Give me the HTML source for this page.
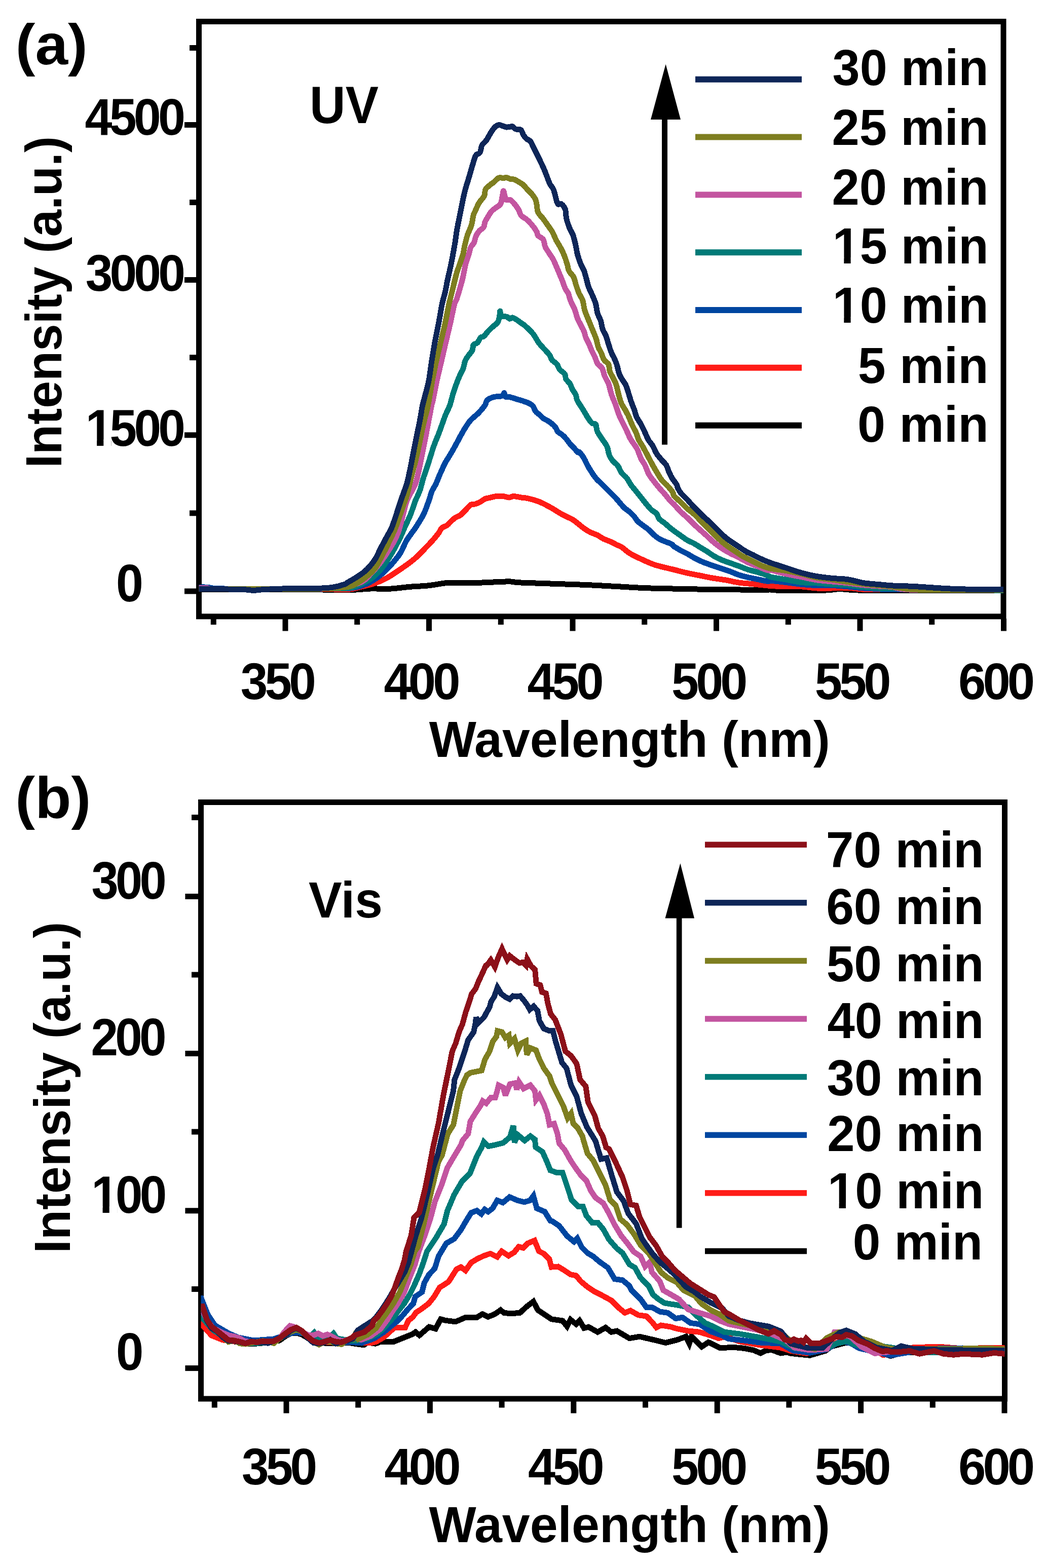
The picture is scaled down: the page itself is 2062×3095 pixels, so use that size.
<!DOCTYPE html><html><head><meta charset="utf-8"><style>html,body{margin:0;padding:0;background:#fff;}svg{display:block}</style></head><body>
<svg width="2062" height="3095" viewBox="0 0 2062 3095">
<rect width="2062" height="3095" fill="#fff"/>
<defs><clipPath id="ca"><rect x="392.5" y="48" width="1587.5" height="1163"/></clipPath><clipPath id="cb"><rect x="396.5" y="1589" width="1586" height="1166"/></clipPath></defs>
<g fill="none" stroke="#000" stroke-width="11">
<rect x="392.5" y="42.5" width="1587.5" height="1174.3"/>
<rect x="396.5" y="1583.5" width="1586" height="1177.5"/>
</g>
<g clip-path="url(#ca)" fill="none" shape-rendering="crispEdges" stroke-width="11" stroke-linejoin="round" stroke-linecap="butt">
<path stroke="#000000" d="M386.0 1163.2 C388.0 1163.2 375.7 1163.2 398.0 1163.2 C420.3 1163.2 486.3 1163.3 520.0 1163.4 C553.7 1163.5 578.3 1163.5 600.0 1163.6 C621.7 1163.7 635.0 1164.0 650.0 1164.2 C665.0 1164.4 676.5 1165.2 690.0 1164.8 C703.5 1164.4 717.8 1162.4 731.0 1162.0 C744.2 1161.6 756.5 1162.8 769.3 1162.2 C782.1 1161.6 794.9 1159.5 807.6 1158.4 C820.4 1157.3 833.7 1157.1 845.8 1155.8 C857.9 1154.5 870.4 1151.7 880.0 1150.7 C889.6 1149.8 891.9 1150.2 903.2 1150.1 C914.5 1150.0 931.1 1150.5 947.9 1150.1 C964.6 1149.7 990.0 1147.9 1003.7 1147.9 C1017.4 1147.9 1005.6 1149.0 1030.0 1150.1 C1054.4 1151.1 1118.8 1153.0 1150.0 1154.2 C1181.2 1155.5 1195.4 1156.5 1217.0 1157.6 C1238.6 1158.7 1251.2 1160.0 1279.5 1160.9 C1307.8 1161.8 1350.1 1162.6 1386.6 1163.2 C1423.0 1163.8 1476.0 1164.2 1498.2 1164.3 C1520.4 1164.4 1513.8 1163.9 1520.0 1164.0 C1526.2 1164.1 1517.5 1164.9 1535.3 1165.1 C1553.1 1165.3 1608.8 1165.3 1627.1 1165.1 C1645.4 1164.8 1639.9 1164.0 1645.0 1163.6 C1650.1 1163.1 1653.6 1162.4 1657.8 1162.4 C1662.0 1162.4 1663.6 1163.1 1670.0 1163.6 C1676.4 1164.0 1681.0 1164.8 1696.0 1165.1 C1711.0 1165.3 1712.7 1164.9 1760.0 1165.1 C1807.3 1165.2 1941.3 1165.8 1980.0 1166.0 C2018.7 1166.2 1990.0 1166.0 1992.0 1166.0"/>
<path stroke="#FF1C17" d="M386.0 1162.6 C388.0 1162.6 391.5 1162.6 398.0 1162.6 C404.5 1162.6 419.7 1162.8 425.0 1162.6 C430.3 1162.4 427.8 1161.4 430.0 1161.2 C432.2 1161.0 435.3 1161.4 438.0 1161.6 C440.7 1161.8 426.2 1162.4 446.0 1162.6 C465.8 1162.8 524.7 1162.6 557.0 1162.6 C589.3 1162.6 618.4 1162.3 640.0 1162.5 C661.6 1162.7 674.4 1164.2 686.4 1163.5 C698.4 1162.8 703.4 1160.3 711.9 1158.4 C720.4 1156.5 729.1 1154.8 737.4 1152.0 C745.7 1149.2 754.2 1145.6 761.6 1141.8 C769.0 1138.0 775.2 1133.5 782.0 1129.0 C788.8 1124.5 796.0 1119.7 802.4 1115.0 C808.8 1110.3 814.1 1106.5 820.3 1101.0 C826.5 1095.5 834.0 1087.4 839.4 1081.8 C844.8 1076.2 848.4 1072.5 852.8 1067.6 C857.1 1062.7 862.3 1056.5 865.5 1052.2 C868.7 1047.9 869.1 1044.5 871.9 1042.0 C874.7 1039.5 878.9 1039.2 882.1 1036.9 C885.3 1034.6 888.2 1030.5 891.0 1028.0 C893.8 1025.5 895.7 1023.5 898.7 1021.6 C901.7 1019.7 905.5 1019.0 908.9 1016.5 C912.3 1014.0 915.7 1009.7 919.1 1006.3 C922.5 1002.9 926.1 998.0 929.3 996.1 C932.5 994.2 935.2 995.6 938.2 994.8 C941.2 993.9 943.9 992.7 947.1 991.0 C950.3 989.3 953.9 986.1 957.3 984.6 C960.7 983.1 963.8 983.0 967.6 982.1 C971.4 981.2 976.0 979.9 980.3 979.5 C984.5 979.1 989.1 979.1 993.1 979.5 C997.1 979.9 1001.1 982.1 1004.5 982.1 C1007.9 982.1 1009.5 979.5 1013.5 979.5 C1017.5 979.5 1024.4 981.5 1028.8 982.1 C1033.2 982.8 1034.2 982.0 1040.0 983.4 C1045.8 984.8 1055.9 987.2 1063.5 990.2 C1071.1 993.2 1078.4 997.2 1085.8 1001.3 C1093.2 1005.4 1100.7 1010.6 1108.1 1014.7 C1115.5 1018.8 1125.1 1022.8 1130.4 1025.9 C1135.7 1029.0 1136.3 1030.2 1140.0 1033.1 C1143.7 1036.0 1148.5 1040.3 1152.8 1043.3 C1157.0 1046.3 1161.2 1048.8 1165.5 1050.9 C1169.8 1053.0 1174.0 1053.9 1178.3 1056.0 C1182.5 1058.1 1186.8 1061.6 1191.0 1063.7 C1195.2 1065.8 1199.5 1066.9 1203.8 1068.8 C1208.0 1070.7 1212.7 1073.3 1216.5 1075.2 C1220.3 1077.1 1222.2 1077.0 1226.7 1080.0 C1231.2 1083.0 1237.2 1088.9 1243.8 1092.9 C1250.3 1096.9 1257.9 1100.3 1266.1 1104.0 C1274.3 1107.7 1282.2 1111.8 1292.9 1115.2 C1303.6 1118.6 1319.6 1121.9 1330.0 1124.5 C1340.4 1127.1 1347.0 1129.0 1355.5 1130.9 C1364.0 1132.8 1372.5 1134.3 1381.0 1136.0 C1389.5 1137.7 1398.0 1139.6 1406.5 1141.1 C1415.0 1142.6 1423.5 1143.5 1432.0 1145.0 C1440.5 1146.5 1449.1 1148.7 1457.6 1150.0 C1466.1 1151.3 1474.6 1151.7 1483.1 1152.6 C1491.6 1153.5 1502.4 1154.6 1508.6 1155.2 C1514.8 1155.8 1513.0 1156.0 1520.0 1156.4 C1527.0 1156.9 1540.4 1157.7 1550.6 1157.9 C1560.8 1158.2 1571.0 1157.4 1581.2 1157.9 C1591.4 1158.4 1601.6 1160.5 1611.8 1161.0 C1622.0 1161.5 1632.3 1161.1 1642.5 1161.0 C1652.7 1160.9 1662.9 1159.8 1673.1 1160.2 C1683.3 1160.6 1693.5 1162.8 1703.7 1163.3 C1713.9 1163.8 1688.2 1163.0 1734.3 1163.3 C1780.3 1163.6 1937.0 1164.7 1980.0 1165.0 C2023.0 1165.3 1990.0 1165.0 1992.0 1165.0"/>
<path stroke="#0046A0" d="M386.0 1159.0 C388.0 1159.0 394.0 1159.0 398.0 1159.0 C402.0 1159.0 406.3 1158.9 410.0 1159.2 C413.7 1159.5 415.0 1160.6 420.0 1161.0 C425.0 1161.4 435.5 1161.2 440.0 1161.5 C444.5 1161.8 427.5 1162.4 447.0 1162.6 C466.5 1162.8 524.8 1162.5 557.0 1162.4 C589.2 1162.3 617.4 1162.0 640.0 1161.8 C662.6 1161.5 678.7 1162.5 692.8 1160.9 C706.9 1159.3 715.2 1156.0 724.6 1152.0 C734.0 1148.0 741.5 1142.4 748.9 1136.7 C756.3 1131.0 762.5 1125.0 769.3 1117.6 C776.1 1110.1 784.2 1100.5 789.7 1092.0 C795.2 1083.5 797.3 1075.0 802.4 1066.5 C807.5 1058.0 814.8 1049.5 820.3 1041.0 C825.8 1032.5 831.2 1024.4 835.6 1015.5 C840.0 1006.6 843.7 995.1 846.5 987.5 C849.3 979.9 850.0 974.9 852.3 969.6 C854.5 964.3 857.7 960.5 860.0 955.6 C862.3 950.7 864.4 944.8 866.3 940.3 C868.2 935.8 869.5 933.0 871.4 928.8 C873.3 924.5 875.4 919.3 877.8 914.8 C880.1 910.3 883.0 906.2 885.5 902.0 C888.0 897.8 890.6 893.8 893.1 889.3 C895.6 884.8 898.0 880.4 900.8 875.3 C903.6 870.2 906.7 864.0 909.7 858.7 C912.7 853.4 915.4 848.3 918.6 843.4 C921.8 838.5 924.5 834.0 928.8 829.3 C933.0 824.6 939.4 820.2 944.1 815.3 C948.8 810.4 954.0 804.2 956.9 800.0 C959.8 795.8 958.4 792.7 961.2 790.0 C964.0 787.3 969.6 785.0 973.9 783.7 C978.1 782.4 983.5 783.0 986.7 782.4 C989.9 781.8 991.6 781.1 993.0 780.0 C994.4 778.9 994.2 775.0 995.0 775.5 C995.8 776.0 995.7 781.6 997.5 783.0 C999.3 784.4 1002.2 782.9 1005.8 783.7 C1009.4 784.5 1014.8 786.4 1019.3 787.8 C1023.8 789.1 1028.4 790.3 1032.8 791.8 C1037.2 793.3 1042.3 795.2 1045.5 796.9 C1048.7 798.6 1050.0 799.5 1051.9 802.0 C1053.8 804.5 1054.9 809.4 1057.0 812.2 C1059.1 815.0 1062.3 816.5 1064.6 818.6 C1066.9 820.7 1068.5 823.1 1071.0 825.0 C1073.5 826.9 1077.1 828.4 1079.9 830.1 C1082.7 831.8 1084.8 832.9 1087.6 835.2 C1090.4 837.5 1094.4 841.3 1096.5 844.1 C1098.6 846.9 1098.3 849.4 1100.4 851.8 C1102.5 854.1 1106.5 855.9 1109.3 858.2 C1112.0 860.5 1114.4 862.8 1116.9 865.8 C1119.5 868.8 1122.0 873.0 1124.6 876.0 C1127.1 879.0 1129.7 880.9 1132.2 883.7 C1134.8 886.5 1138.0 891.1 1139.9 892.6 C1141.8 894.1 1141.7 890.6 1143.8 892.8 C1145.9 894.9 1150.2 901.2 1152.8 905.5 C1155.3 909.8 1156.8 914.0 1159.1 918.3 C1161.4 922.5 1164.0 926.8 1166.8 931.0 C1169.6 935.2 1172.7 940.2 1175.7 943.8 C1178.7 947.4 1181.6 949.7 1184.6 952.7 C1187.6 955.7 1190.4 958.4 1193.6 961.6 C1196.8 964.8 1200.4 968.4 1203.8 971.8 C1207.2 975.2 1210.8 978.6 1214.0 982.0 C1217.2 985.4 1219.9 988.8 1222.9 992.2 C1225.9 995.6 1228.6 999.4 1231.8 1002.4 C1235.0 1005.4 1238.8 1007.3 1242.0 1010.1 C1245.2 1012.9 1248.2 1015.8 1251.0 1019.0 C1253.8 1022.2 1255.4 1026.0 1258.6 1029.2 C1261.8 1032.4 1266.5 1035.4 1270.1 1038.2 C1273.7 1041.0 1276.9 1042.8 1280.3 1045.8 C1283.7 1048.8 1287.1 1053.0 1290.5 1056.0 C1293.9 1059.0 1297.1 1061.6 1300.7 1063.7 C1304.3 1065.8 1308.2 1067.1 1312.2 1068.8 C1316.2 1070.5 1322.0 1072.3 1325.0 1073.9 C1328.0 1075.5 1327.0 1076.5 1330.0 1078.6 C1333.0 1080.7 1338.5 1083.9 1342.8 1086.3 C1347.0 1088.7 1351.2 1090.4 1355.5 1092.7 C1359.8 1095.0 1363.6 1097.8 1368.3 1100.3 C1373.0 1102.8 1378.3 1105.7 1383.6 1108.0 C1388.9 1110.3 1394.2 1112.2 1400.2 1114.3 C1406.2 1116.4 1412.9 1118.6 1419.3 1120.7 C1425.7 1122.8 1432.0 1124.8 1438.4 1127.1 C1444.8 1129.4 1451.2 1132.6 1457.6 1134.7 C1464.0 1136.8 1470.3 1138.3 1476.7 1139.8 C1483.1 1141.3 1489.4 1142.4 1495.8 1143.7 C1502.2 1145.0 1511.0 1147.0 1515.0 1147.5 C1519.0 1148.0 1514.1 1146.1 1520.0 1146.4 C1525.9 1146.7 1540.4 1148.3 1550.6 1149.5 C1560.8 1150.7 1571.0 1152.3 1581.2 1153.3 C1591.4 1154.3 1601.6 1155.2 1611.8 1155.6 C1622.0 1156.0 1632.3 1155.2 1642.5 1155.6 C1652.7 1156.0 1662.9 1157.0 1673.1 1157.9 C1683.3 1158.8 1693.5 1160.2 1703.7 1161.0 C1713.9 1161.8 1724.9 1162.1 1734.3 1162.5 C1743.7 1162.9 1719.0 1162.9 1760.0 1163.3 C1801.0 1163.7 1941.3 1164.7 1980.0 1165.0 C2018.7 1165.3 1990.0 1165.0 1992.0 1165.0"/>
<path stroke="#007A77" d="M386.0 1162.6 C388.0 1162.6 369.5 1162.6 398.0 1162.6 C426.5 1162.6 516.7 1162.5 557.0 1162.4 C597.3 1162.3 618.4 1162.0 640.0 1161.8 C661.6 1161.5 675.5 1161.9 686.4 1160.9 C697.3 1159.9 698.1 1158.8 705.5 1155.8 C712.9 1152.8 723.4 1148.4 731.0 1143.1 C738.6 1137.8 745.0 1131.4 751.4 1123.9 C757.8 1116.5 763.3 1108.0 769.3 1098.4 C775.2 1088.8 782.2 1076.1 787.1 1066.5 C792.0 1056.9 794.8 1049.5 798.6 1041.0 C802.4 1032.5 806.7 1024.0 810.1 1015.5 C813.5 1007.0 816.9 995.7 819.0 990.0 C821.1 984.3 821.3 985.1 823.0 981.1 C824.7 977.1 827.4 971.5 829.3 965.8 C831.2 960.1 832.5 953.1 834.4 946.7 C836.3 940.3 838.9 933.4 840.8 927.6 C842.7 921.9 844.2 917.5 845.9 912.2 C847.6 906.9 849.1 901.7 851.0 895.7 C852.9 889.8 855.0 882.9 857.4 876.5 C859.8 870.1 862.6 863.8 865.1 857.4 C867.6 851.0 869.8 844.7 872.1 838.3 C874.4 831.9 876.5 825.5 879.1 819.1 C881.7 812.7 885.2 806.8 887.6 800.0 C890.0 793.2 891.5 785.4 893.6 778.6 C895.7 771.8 897.7 765.8 900.0 759.4 C902.3 753.0 905.3 745.6 907.6 740.3 C909.9 735.0 912.3 732.3 914.0 727.6 C915.7 722.9 916.1 716.5 917.8 712.2 C919.5 707.9 921.9 705.4 924.2 702.0 C926.5 698.6 930.1 695.4 931.8 691.8 C933.5 688.2 932.7 682.9 934.4 680.4 C936.1 677.9 939.7 678.9 942.0 676.5 C944.3 674.1 946.3 668.4 948.4 666.3 C950.5 664.2 952.5 665.7 954.8 663.8 C957.1 661.9 959.4 658.0 962.4 654.8 C965.4 651.6 969.5 647.6 972.7 644.6 C975.9 641.6 979.5 640.1 981.6 637.0 C983.7 633.9 984.7 629.8 985.5 626.0 C986.3 622.2 986.1 614.3 986.6 614.0 C987.1 613.7 987.4 622.3 988.5 624.0 C989.6 625.7 991.1 624.0 993.1 624.2 C995.1 624.5 998.6 624.6 1000.7 625.5 C1002.8 626.4 1004.1 629.1 1005.8 629.3 C1007.5 629.5 1008.8 626.6 1010.9 626.8 C1013.0 627.0 1015.8 628.9 1018.6 630.6 C1021.4 632.3 1024.5 634.9 1027.5 637.0 C1030.5 639.1 1032.3 639.7 1036.4 643.4 C1040.5 647.1 1047.8 653.8 1052.3 659.4 C1056.8 665.0 1058.2 670.4 1063.5 677.2 C1068.8 684.0 1079.6 694.5 1083.8 700.0 C1088.0 705.5 1086.4 707.0 1088.9 710.2 C1091.5 713.4 1096.5 715.9 1099.1 719.1 C1101.6 722.3 1101.7 726.1 1104.2 729.3 C1106.8 732.5 1112.3 735.1 1114.4 738.3 C1116.5 741.5 1115.2 745.3 1116.9 748.5 C1118.6 751.7 1122.5 754.0 1124.6 757.4 C1126.7 760.8 1127.8 765.3 1129.7 768.9 C1131.6 772.5 1134.6 775.7 1136.1 779.1 C1137.6 782.5 1136.9 785.5 1138.6 789.3 C1140.3 793.1 1143.9 798.2 1146.3 802.0 C1148.7 805.8 1150.4 808.4 1152.7 812.2 C1155.0 816.0 1157.8 821.2 1160.3 825.0 C1162.8 828.8 1165.5 833.1 1168.0 835.2 C1170.5 837.3 1173.9 835.2 1175.6 837.8 C1177.3 840.3 1176.5 846.2 1178.2 850.5 C1179.9 854.8 1183.0 859.0 1185.8 863.3 C1188.5 867.5 1192.5 872.6 1194.7 876.0 C1196.9 879.4 1197.4 879.9 1198.7 883.8 C1200.0 887.6 1200.8 894.9 1202.5 899.1 C1204.2 903.4 1206.1 905.9 1208.9 909.3 C1211.7 912.7 1216.1 915.5 1219.1 919.5 C1222.1 923.5 1223.7 929.6 1226.7 933.6 C1229.7 937.6 1233.9 940.0 1236.9 943.8 C1239.9 947.6 1241.6 952.2 1244.6 956.5 C1247.6 960.8 1251.4 965.0 1254.8 969.3 C1258.2 973.5 1261.6 977.8 1265.0 982.0 C1268.4 986.2 1271.8 990.8 1275.2 994.8 C1278.6 998.8 1282.0 1003.1 1285.4 1006.3 C1288.8 1009.5 1293.0 1010.9 1295.6 1013.9 C1298.1 1016.9 1297.9 1020.9 1300.7 1024.1 C1303.5 1027.3 1308.6 1030.1 1312.2 1033.1 C1315.8 1036.1 1319.4 1039.5 1322.4 1042.0 C1325.4 1044.5 1326.6 1045.5 1330.0 1048.0 C1333.4 1050.5 1338.5 1053.9 1342.8 1056.9 C1347.0 1059.9 1351.2 1063.4 1355.5 1065.9 C1359.8 1068.5 1364.0 1069.9 1368.3 1072.2 C1372.5 1074.5 1376.8 1077.3 1381.0 1079.9 C1385.2 1082.5 1389.1 1084.6 1393.8 1087.6 C1398.5 1090.6 1404.0 1094.8 1409.1 1097.8 C1414.2 1100.8 1418.9 1103.1 1424.4 1105.4 C1429.9 1107.7 1436.2 1109.7 1442.2 1111.8 C1448.2 1113.9 1454.3 1116.1 1460.1 1118.2 C1465.8 1120.3 1470.8 1122.6 1476.7 1124.5 C1482.7 1126.4 1489.4 1127.7 1495.8 1129.6 C1502.2 1131.5 1511.0 1134.5 1515.0 1136.0 C1519.0 1137.5 1514.1 1137.5 1520.0 1138.8 C1525.9 1140.1 1540.4 1142.3 1550.6 1144.1 C1560.8 1145.9 1571.0 1148.3 1581.2 1149.5 C1591.4 1150.7 1601.6 1150.4 1611.8 1151.0 C1622.0 1151.6 1632.3 1152.6 1642.5 1153.3 C1652.7 1154.0 1662.9 1154.0 1673.1 1154.9 C1683.3 1155.8 1693.5 1157.7 1703.7 1158.7 C1713.9 1159.7 1724.9 1160.5 1734.3 1161.0 C1743.7 1161.5 1719.0 1161.0 1760.0 1161.7 C1801.0 1162.4 1941.3 1164.7 1980.0 1165.3 C2018.7 1165.9 1990.0 1165.3 1992.0 1165.3"/>
<path stroke="#C355A0" d="M386.0 1160.5 C388.0 1160.5 394.0 1160.5 398.0 1160.5 C402.0 1160.5 405.5 1160.5 410.0 1160.8 C414.5 1161.1 400.5 1162.3 425.0 1162.6 C449.5 1162.9 521.2 1162.5 557.0 1162.4 C592.8 1162.3 615.2 1163.5 640.0 1161.8 C664.8 1160.1 689.9 1157.2 705.5 1152.0 C721.1 1146.8 724.7 1139.2 733.6 1130.3 C742.5 1121.4 750.5 1111.2 759.0 1098.4 C767.5 1085.7 777.4 1071.9 784.6 1053.8 C791.8 1035.7 796.4 1006.8 802.4 990.0 C808.4 973.2 815.5 967.7 820.4 953.0 C825.3 938.3 828.3 919.0 831.9 902.0 C835.5 885.0 838.7 868.0 842.0 851.0 C845.3 834.0 849.7 810.0 851.7 800.0 C853.7 790.0 852.3 799.1 854.0 791.3 C855.7 783.5 858.9 765.9 861.7 753.1 C864.5 740.4 867.6 727.6 870.6 714.8 C873.6 702.0 876.5 689.2 879.5 676.5 C882.5 663.8 885.6 651.0 888.5 638.3 C891.4 625.5 894.8 607.8 896.8 600.0 C898.8 592.2 898.8 597.0 900.8 591.3 C902.8 585.6 906.4 573.2 908.5 565.8 C910.6 558.4 911.9 554.1 913.6 546.7 C915.3 539.3 916.8 528.7 918.7 521.2 C920.6 513.8 923.4 507.5 925.1 502.0 C926.8 496.5 927.2 491.8 928.9 488.0 C930.6 484.2 933.6 482.7 935.3 479.1 C937.0 475.5 937.4 470.1 939.1 466.3 C940.8 462.5 943.0 459.1 945.5 456.1 C948.0 453.1 952.5 451.5 954.4 448.5 C956.3 445.5 955.6 441.5 956.9 438.3 C958.2 435.1 959.9 432.8 962.0 429.3 C964.1 425.9 966.8 420.7 969.4 417.6 C972.0 414.5 974.3 413.2 977.4 410.7 C980.5 408.2 985.4 406.8 987.7 402.7 C990.1 398.6 990.5 390.3 991.5 386.0 C992.5 381.7 992.8 376.8 993.5 377.0 C994.2 377.2 995.0 384.1 996.0 387.0 C997.0 389.9 997.3 393.3 999.2 394.6 C1001.1 395.9 1004.5 393.2 1007.2 394.6 C1009.9 396.0 1012.6 399.4 1015.3 402.7 C1018.0 405.9 1021.1 410.3 1023.3 414.1 C1025.5 417.9 1025.7 422.3 1028.4 425.5 C1031.1 428.7 1035.7 430.0 1039.3 433.1 C1042.9 436.3 1046.9 440.6 1050.2 444.6 C1053.5 448.6 1057.2 454.0 1059.1 457.4 C1061.0 460.8 1059.6 462.6 1061.7 465.1 C1063.8 467.7 1069.6 469.1 1071.9 472.7 C1074.2 476.3 1073.8 482.2 1075.7 486.7 C1077.6 491.2 1080.9 495.4 1083.4 499.5 C1086.0 503.6 1088.7 506.8 1091.0 511.0 C1093.3 515.2 1095.3 520.1 1097.4 525.0 C1099.5 529.9 1101.7 535.2 1103.8 540.3 C1105.9 545.4 1108.3 550.7 1110.2 555.6 C1112.1 560.5 1113.4 565.5 1115.3 569.6 C1117.2 573.7 1120.0 576.1 1121.7 580.0 C1123.4 583.9 1123.4 587.5 1125.5 592.8 C1127.6 598.1 1132.1 605.9 1134.4 611.9 C1136.7 617.9 1137.6 623.6 1139.5 628.5 C1141.4 633.4 1143.8 637.0 1145.9 641.2 C1148.0 645.5 1150.6 649.8 1152.3 654.0 C1154.0 658.2 1154.4 662.5 1156.1 666.7 C1157.8 671.0 1160.6 675.2 1162.5 679.5 C1164.4 683.8 1165.7 688.0 1167.6 692.2 C1169.5 696.5 1172.1 700.7 1174.0 705.0 C1175.9 709.3 1176.8 714.2 1179.1 717.8 C1181.4 721.4 1185.7 722.7 1188.0 726.7 C1190.3 730.7 1191.2 737.3 1193.1 742.0 C1195.0 746.7 1198.1 751.7 1199.5 754.7 C1200.9 757.7 1200.5 755.9 1201.7 760.0 C1202.9 764.1 1204.7 772.7 1206.8 779.1 C1208.9 785.5 1212.1 791.9 1214.4 798.3 C1216.7 804.7 1218.5 811.4 1220.8 817.4 C1223.1 823.4 1226.0 828.7 1228.5 834.0 C1231.0 839.3 1233.5 844.0 1236.1 849.3 C1238.6 854.6 1241.2 861.2 1243.8 865.9 C1246.3 870.6 1249.2 873.9 1251.4 877.3 C1253.7 880.7 1255.0 881.7 1257.3 886.4 C1259.6 891.1 1262.4 900.2 1265.0 905.5 C1267.6 910.8 1270.2 913.2 1272.7 918.3 C1275.2 923.4 1277.3 930.8 1280.3 936.1 C1283.3 941.4 1287.1 945.7 1290.5 950.2 C1293.9 954.7 1297.1 958.6 1300.7 962.9 C1304.3 967.1 1308.6 971.5 1312.2 975.7 C1315.8 980.0 1319.4 985.1 1322.4 988.4 C1325.4 991.7 1326.6 992.2 1330.0 995.7 C1333.4 999.2 1338.5 1005.5 1342.8 1009.7 C1347.0 1014.0 1351.2 1017.2 1355.5 1021.2 C1359.8 1025.2 1364.0 1030.0 1368.3 1034.0 C1372.5 1038.0 1376.8 1041.7 1381.0 1045.5 C1385.2 1049.3 1389.1 1052.7 1393.8 1056.9 C1398.5 1061.2 1404.0 1066.8 1409.1 1071.0 C1414.2 1075.2 1419.3 1079.0 1424.4 1082.4 C1429.5 1085.8 1434.2 1088.4 1439.7 1091.4 C1445.2 1094.4 1451.4 1097.1 1457.6 1100.3 C1463.8 1103.5 1470.3 1107.5 1476.7 1110.5 C1483.1 1113.5 1489.4 1115.7 1495.8 1118.2 C1502.2 1120.8 1511.0 1124.7 1515.0 1125.8 C1519.0 1126.9 1514.1 1123.8 1520.0 1125.0 C1525.9 1126.2 1540.4 1130.4 1550.6 1132.7 C1560.8 1135.0 1571.0 1136.8 1581.2 1138.8 C1591.4 1140.8 1601.6 1143.4 1611.8 1144.9 C1622.0 1146.4 1632.3 1147.0 1642.5 1148.0 C1652.7 1149.0 1662.9 1149.8 1673.1 1151.0 C1683.3 1152.2 1693.5 1153.9 1703.7 1154.9 C1713.9 1155.9 1724.9 1156.5 1734.3 1157.1 C1743.7 1157.7 1748.2 1157.5 1760.0 1158.7 C1771.8 1159.9 1768.3 1163.5 1805.0 1164.5 C1841.7 1165.5 1948.8 1164.6 1980.0 1164.6 C2011.2 1164.6 1990.0 1164.6 1992.0 1164.6"/>
<path stroke="#7E7E20" d="M386.0 1162.6 C388.0 1162.6 369.5 1162.6 398.0 1162.6 C426.5 1162.6 516.7 1162.5 557.0 1162.4 C597.3 1162.3 618.4 1162.5 640.0 1161.8 C661.6 1161.1 675.5 1160.2 686.4 1158.4 C697.3 1156.6 699.1 1154.3 705.5 1150.7 C711.9 1147.1 718.9 1141.6 724.6 1136.7 C730.4 1131.8 734.7 1128.9 740.0 1121.4 C745.3 1114.0 751.6 1101.2 756.5 1092.0 C761.4 1082.8 765.2 1075.0 769.3 1066.5 C773.3 1058.0 777.4 1049.5 780.8 1041.0 C784.2 1032.5 786.7 1024.0 789.7 1015.5 C792.7 1007.0 796.5 996.1 798.6 990.0 C800.8 983.9 800.9 984.8 802.6 978.6 C804.3 972.5 806.8 961.6 808.9 953.1 C811.0 944.6 813.2 936.1 815.3 927.6 C817.4 919.1 819.7 910.5 821.7 902.0 C823.7 893.5 825.6 885.0 827.4 876.5 C829.2 868.0 830.7 859.5 832.5 851.0 C834.3 842.5 836.3 834.0 838.3 825.5 C840.3 817.0 842.2 812.1 844.6 800.0 C847.0 787.9 850.2 767.3 852.8 753.1 C855.4 738.9 857.6 727.6 860.4 714.8 C863.1 702.0 866.3 689.2 869.3 676.5 C872.3 663.8 875.5 651.0 878.3 638.3 C881.1 625.5 884.3 607.8 885.9 600.0 C887.5 592.2 886.7 597.0 888.1 591.3 C889.5 585.6 892.3 574.3 894.4 565.8 C896.5 557.3 898.7 547.7 900.8 540.3 C902.9 532.9 905.1 527.6 907.2 521.2 C909.3 514.8 911.9 508.4 913.6 502.0 C915.3 495.6 915.9 489.3 917.4 482.9 C918.9 476.5 920.4 470.2 922.5 463.8 C924.6 457.4 928.3 451.0 930.2 444.6 C932.1 438.2 932.8 430.0 934.0 425.5 C935.2 421.0 935.3 421.8 937.2 417.6 C939.1 413.4 942.2 405.6 945.3 400.4 C948.4 395.2 953.5 391.0 955.6 386.6 C957.7 382.2 956.2 377.4 957.9 374.0 C959.6 370.6 963.0 368.4 965.9 365.9 C968.8 363.4 972.0 361.5 975.1 359.0 C978.2 356.5 981.2 352.2 984.3 351.0 C987.4 349.8 991.0 351.7 993.5 351.6 C996.0 351.5 996.9 350.1 999.2 350.4 C1001.5 350.7 1004.5 352.6 1007.2 353.3 C1009.9 354.0 1012.6 353.4 1015.3 354.4 C1018.0 355.3 1020.4 357.3 1023.3 359.0 C1026.2 360.7 1029.6 362.3 1032.5 364.8 C1035.4 367.3 1037.8 371.1 1040.5 374.0 C1043.2 376.9 1045.9 378.8 1048.6 382.0 C1051.3 385.2 1054.8 389.9 1056.6 393.5 C1058.3 397.1 1058.2 399.5 1059.1 403.8 C1059.9 408.1 1059.6 414.4 1061.7 419.1 C1063.8 423.8 1068.7 427.6 1071.9 431.9 C1075.1 436.1 1077.8 440.4 1080.8 444.6 C1083.8 448.9 1086.9 452.5 1089.7 457.4 C1092.5 462.3 1094.6 468.7 1097.4 474.0 C1100.2 479.3 1103.5 484.0 1106.3 489.3 C1109.1 494.6 1111.9 500.6 1114.0 505.9 C1116.1 511.2 1117.6 516.3 1119.1 521.2 C1120.6 526.1 1120.8 531.0 1122.9 535.2 C1125.0 539.5 1129.5 542.0 1131.8 546.7 C1134.1 551.4 1135.1 557.9 1136.9 563.3 C1138.7 568.7 1140.6 574.4 1142.7 579.3 C1144.8 584.2 1147.9 587.4 1149.7 592.8 C1151.5 598.2 1151.9 605.9 1153.6 611.9 C1155.3 617.9 1157.9 623.2 1160.0 628.5 C1162.1 633.8 1164.4 639.1 1166.3 643.8 C1168.2 648.5 1169.7 652.2 1171.4 656.5 C1173.1 660.8 1175.0 664.6 1176.5 669.3 C1178.0 674.0 1178.7 679.9 1180.4 684.6 C1182.1 689.3 1184.8 693.0 1186.7 697.3 C1188.6 701.5 1189.5 706.5 1191.8 710.1 C1194.1 713.7 1198.9 715.2 1200.8 719.0 C1202.7 722.8 1201.8 728.6 1203.3 733.1 C1204.8 737.6 1207.6 741.4 1209.7 745.8 C1211.8 750.2 1214.1 753.8 1215.9 759.3 C1217.8 764.8 1219.1 773.0 1220.8 779.1 C1222.5 785.2 1223.6 790.4 1225.9 795.7 C1228.2 801.0 1232.2 806.3 1234.8 811.0 C1237.3 815.7 1239.1 819.1 1241.2 823.8 C1243.3 828.5 1245.2 834.0 1247.6 839.1 C1249.9 844.2 1253.2 849.5 1255.3 854.4 C1257.4 859.3 1258.4 864.1 1260.4 868.4 C1262.5 872.7 1264.7 874.9 1267.6 880.0 C1270.5 885.1 1274.4 892.7 1277.8 899.1 C1281.2 905.5 1284.8 912.5 1288.0 918.3 C1291.2 924.0 1293.9 928.7 1296.9 933.6 C1299.9 938.5 1302.4 943.4 1305.8 947.6 C1309.2 951.9 1313.7 955.1 1317.3 959.1 C1320.9 963.1 1325.4 968.5 1327.5 971.8 C1329.6 975.1 1327.5 976.0 1330.0 979.1 C1332.5 982.2 1338.5 986.6 1342.8 990.6 C1347.0 994.6 1351.2 999.6 1355.5 1003.4 C1359.8 1007.2 1364.0 1009.8 1368.3 1013.6 C1372.5 1017.4 1376.8 1022.0 1381.0 1026.3 C1385.2 1030.5 1389.5 1034.8 1393.8 1039.1 C1398.0 1043.3 1402.2 1047.5 1406.5 1051.8 C1410.8 1056.0 1414.6 1060.3 1419.3 1064.6 C1424.0 1068.8 1429.5 1073.5 1434.6 1077.3 C1439.7 1081.1 1444.8 1084.2 1449.9 1087.6 C1455.0 1091.0 1459.7 1094.6 1465.2 1097.8 C1470.7 1101.0 1477.1 1103.7 1483.1 1106.7 C1489.0 1109.7 1494.9 1113.1 1500.9 1115.6 C1507.0 1118.1 1511.1 1120.1 1519.4 1122.0 C1527.7 1123.8 1540.3 1124.7 1550.6 1126.5 C1560.9 1128.3 1571.0 1130.4 1581.2 1132.7 C1591.4 1135.0 1601.6 1138.4 1611.8 1140.3 C1622.0 1142.2 1632.3 1142.7 1642.5 1144.1 C1652.7 1145.5 1662.9 1147.3 1673.1 1148.7 C1683.3 1150.1 1693.5 1151.4 1703.7 1152.6 C1713.9 1153.8 1724.9 1154.7 1734.3 1155.6 C1743.7 1156.5 1748.2 1156.5 1760.0 1157.9 C1771.8 1159.3 1782.0 1162.7 1805.3 1163.8 C1828.6 1164.9 1870.9 1164.2 1900.0 1164.3 C1929.1 1164.4 1964.7 1164.3 1980.0 1164.3 C1995.3 1164.3 1990.0 1164.3 1992.0 1164.3"/>
<path stroke="#0E2658" d="M386.0 1162.8 C388.0 1162.8 387.3 1162.8 398.0 1162.8 C408.7 1162.8 435.3 1162.8 450.0 1163.0 C464.7 1163.2 477.7 1163.6 486.0 1164.0 C494.3 1164.4 495.2 1165.5 500.0 1165.5 C504.8 1165.5 505.5 1164.6 515.0 1164.0 C524.5 1163.4 542.8 1162.4 557.0 1162.0 C571.2 1161.6 587.0 1161.7 600.0 1161.5 C613.0 1161.3 625.3 1161.4 635.0 1161.0 C644.7 1160.6 650.5 1160.3 658.0 1159.0 C665.5 1157.7 675.3 1154.9 680.0 1153.3 C684.7 1151.7 682.8 1151.5 686.4 1149.4 C690.0 1147.3 696.4 1143.9 701.7 1140.5 C707.0 1137.1 713.4 1133.0 718.3 1129.0 C723.2 1125.0 727.2 1120.8 731.0 1116.3 C734.8 1111.8 737.8 1108.0 741.2 1102.2 C744.6 1096.5 747.8 1088.8 751.4 1081.8 C755.0 1074.8 759.3 1067.0 762.9 1060.2 C766.5 1053.4 769.9 1048.5 773.1 1041.0 C776.3 1033.5 779.1 1024.0 782.0 1015.5 C784.9 1007.0 786.8 1000.4 790.3 990.0 C793.8 979.6 800.1 963.5 803.2 953.1 C806.3 942.7 807.1 936.1 808.9 927.6 C810.7 919.1 812.3 910.5 814.0 902.0 C815.7 893.5 817.4 885.0 819.1 876.5 C820.8 868.0 822.5 859.5 824.2 851.0 C825.9 842.5 827.7 834.0 829.3 825.5 C830.9 817.0 831.1 812.1 833.8 800.0 C836.5 787.9 842.8 767.3 845.7 753.1 C848.7 738.9 849.5 727.6 851.5 714.8 C853.5 702.0 855.6 689.2 857.9 676.5 C860.2 663.8 863.1 651.0 865.5 638.3 C867.9 625.5 870.3 610.0 872.3 600.0 C874.4 590.0 876.1 586.4 877.9 578.6 C879.7 570.8 881.2 561.6 883.0 553.1 C884.8 544.6 886.9 536.1 888.7 527.6 C890.5 519.1 892.2 510.5 893.8 502.0 C895.4 493.5 896.9 485.0 898.3 476.5 C899.7 468.0 900.6 459.5 902.1 451.0 C903.6 442.5 905.5 434.0 907.2 425.5 C908.9 417.0 910.5 408.4 912.3 400.0 C914.1 391.6 915.5 383.9 917.9 375.0 C920.2 366.1 924.1 354.6 926.4 346.7 C928.7 338.8 930.3 333.1 931.9 327.6 C933.5 322.2 934.7 317.6 936.0 314.0 C937.3 310.4 937.6 308.1 939.5 305.9 C941.4 303.7 945.3 304.0 947.2 300.8 C949.1 297.6 948.9 290.8 951.0 286.7 C953.1 282.6 957.0 280.8 960.0 276.5 C963.0 272.2 966.1 265.4 968.9 261.2 C971.6 256.9 974.0 253.4 976.5 251.0 C979.0 248.6 981.7 247.0 984.2 246.6 C986.8 246.2 989.2 247.8 991.8 248.5 C994.3 249.2 997.1 250.7 999.5 251.0 C1001.9 251.3 1004.0 250.6 1005.9 250.4 C1007.8 250.2 1009.1 249.0 1011.0 249.7 C1012.9 250.4 1014.5 253.7 1017.3 254.8 C1020.1 255.9 1025.0 254.2 1027.6 256.1 C1030.2 258.0 1030.8 263.3 1032.7 266.3 C1034.6 269.3 1036.7 271.9 1039.0 274.0 C1041.3 276.1 1044.4 276.1 1046.7 279.1 C1049.0 282.1 1051.0 287.6 1053.1 291.8 C1055.2 296.1 1057.3 300.4 1059.4 304.6 C1061.5 308.9 1063.5 312.4 1065.8 317.3 C1068.1 322.2 1071.4 329.0 1073.5 333.9 C1075.6 338.8 1076.7 341.8 1078.6 346.7 C1080.5 351.6 1082.7 358.4 1085.0 363.0 C1087.3 367.6 1089.9 368.2 1092.4 374.6 C1094.9 381.0 1097.5 396.6 1100.0 401.3 C1102.5 406.0 1105.0 400.7 1107.6 402.6 C1110.1 404.5 1113.6 407.9 1115.3 412.8 C1117.0 417.7 1116.3 425.5 1117.8 431.9 C1119.3 438.3 1122.1 445.7 1124.2 451.0 C1126.3 456.3 1128.7 458.5 1130.6 463.8 C1132.5 469.1 1134.2 476.5 1135.7 482.9 C1137.2 489.3 1137.8 495.6 1139.5 502.0 C1141.2 508.4 1143.8 515.9 1145.9 521.2 C1148.0 526.5 1150.5 529.6 1152.2 533.9 C1153.9 538.1 1154.6 541.4 1156.1 546.7 C1157.6 552.0 1159.3 560.2 1161.2 565.8 C1163.1 571.3 1165.2 574.5 1167.6 580.0 C1169.9 585.5 1173.4 592.7 1175.3 599.1 C1177.2 605.5 1177.4 612.5 1179.1 618.3 C1180.8 624.0 1183.8 628.3 1185.5 633.6 C1187.2 638.9 1187.6 645.3 1189.3 650.2 C1191.0 655.1 1193.8 658.0 1195.7 662.9 C1197.6 667.8 1199.1 674.2 1200.8 679.5 C1202.5 684.8 1204.0 690.1 1205.9 694.8 C1207.8 699.5 1210.3 703.4 1212.2 707.6 C1214.1 711.9 1215.6 715.0 1217.3 720.3 C1219.0 725.6 1220.1 733.7 1222.4 739.4 C1224.8 745.1 1229.3 751.3 1231.4 754.7 C1233.5 758.1 1233.2 755.9 1234.8 760.0 C1236.4 764.1 1239.5 773.8 1241.2 779.1 C1242.9 784.4 1243.4 787.0 1245.1 791.9 C1246.8 796.8 1249.5 803.2 1251.4 808.5 C1253.3 813.8 1254.4 819.1 1256.5 823.8 C1258.6 828.5 1261.7 831.8 1264.2 836.5 C1266.8 841.2 1269.2 846.5 1271.8 851.8 C1274.3 857.1 1276.8 863.7 1279.5 868.4 C1282.2 873.1 1285.3 875.5 1288.0 880.0 C1290.7 884.5 1292.6 890.6 1295.6 895.3 C1298.6 900.0 1302.6 904.3 1305.8 908.1 C1309.0 911.9 1312.5 914.5 1314.8 918.3 C1317.1 922.1 1317.9 926.8 1319.8 931.0 C1321.7 935.2 1323.6 939.5 1326.2 943.8 C1328.8 948.0 1333.3 953.2 1335.2 956.5 C1337.1 959.8 1336.2 960.9 1337.7 963.8 C1339.2 966.7 1341.0 970.4 1344.0 974.0 C1347.0 977.6 1351.9 981.7 1355.5 985.5 C1359.1 989.3 1362.1 993.2 1365.7 997.0 C1369.3 1000.8 1373.4 1004.7 1377.2 1008.5 C1381.0 1012.3 1384.7 1016.2 1388.7 1020.0 C1392.7 1023.8 1397.2 1027.4 1401.4 1031.4 C1405.7 1035.4 1410.0 1040.0 1414.2 1044.2 C1418.5 1048.5 1422.7 1053.1 1426.9 1056.9 C1431.2 1060.7 1435.0 1063.7 1439.7 1067.1 C1444.4 1070.5 1449.9 1073.9 1455.0 1077.3 C1460.1 1080.7 1465.2 1084.6 1470.3 1087.6 C1475.4 1090.6 1480.1 1092.5 1485.6 1095.2 C1491.1 1098.0 1497.8 1101.5 1503.5 1104.1 C1509.2 1106.7 1512.2 1108.0 1520.0 1110.8 C1527.8 1113.6 1540.4 1117.4 1550.6 1120.7 C1560.8 1124.0 1571.0 1127.9 1581.2 1130.7 C1591.4 1133.5 1601.6 1135.8 1611.8 1137.6 C1622.0 1139.4 1632.3 1140.4 1642.5 1141.4 C1652.7 1142.4 1662.9 1142.2 1673.1 1143.7 C1683.3 1145.2 1693.5 1148.9 1703.7 1150.6 C1713.9 1152.2 1724.9 1152.7 1734.3 1153.6 C1743.7 1154.5 1748.2 1155.2 1760.0 1155.9 C1771.8 1156.6 1786.9 1156.6 1805.3 1157.6 C1823.7 1158.6 1849.5 1160.8 1870.3 1161.8 C1891.1 1162.8 1911.7 1163.2 1930.0 1163.6 C1948.3 1164.0 1969.7 1163.9 1980.0 1164.0 C1990.3 1164.1 1990.0 1164.0 1992.0 1164.0"/>
</g>
<g clip-path="url(#cb)" fill="none" shape-rendering="crispEdges" stroke-width="11" stroke-linejoin="miter" stroke-miterlimit="3" stroke-linecap="butt">
<path stroke="#000000" d="M387.5 2590.0 L399.5 2590.0 L408.4 2608.0 L417.3 2621.0 L428.5 2628.0 L440.0 2637.0 L450.8 2645.0 L462.0 2648.0 L473.1 2650.0 L481.0 2644.0 L487.0 2652.0 L506.6 2652.0 L528.9 2650.0 L551.2 2646.0 L562.4 2638.0 L573.6 2632.0 L584.7 2631.0 L595.9 2634.0 L607.0 2641.0 L618.2 2649.0 L640.5 2651.0 L662.9 2651.0 L685.2 2650.0 L700.0 2652.2 L717.9 2654.8 L725.5 2649.7 L740.8 2652.2 L751.0 2648.4 L776.5 2648.4 L789.3 2643.3 L802.0 2638.2 L814.8 2633.1 L819.9 2629.3 L827.6 2635.7 L846.7 2619.1 L859.4 2622.9 L869.6 2603.8 L878.6 2606.3 L899.0 2608.9 L918.6 2600.4 L940.9 2600.4 L952.0 2593.7 L963.2 2599.3 L976.6 2593.7 L987.8 2585.9 L994.5 2591.5 L1007.9 2592.6 L1025.7 2591.5 L1039.1 2579.2 L1052.5 2569.1 L1061.4 2585.9 L1074.8 2594.8 L1088.2 2603.8 L1110.1 2607.0 L1119.0 2618.1 L1125.7 2604.7 L1136.9 2613.7 L1143.6 2607.0 L1152.5 2621.5 L1161.4 2619.2 L1179.3 2629.3 L1194.9 2620.4 L1206.1 2629.3 L1217.2 2627.0 L1241.8 2641.6 L1261.9 2638.2 L1290.9 2644.9 L1313.2 2650.5 L1335.5 2644.9 L1353.4 2638.2 L1360.1 2651.6 L1364.5 2638.2 L1384.6 2658.3 L1398.0 2649.4 L1420.4 2660.5 L1449.1 2659.5 L1468.3 2661.4 L1487.4 2665.2 L1500.8 2671.0 L1510.4 2666.2 L1521.8 2664.3 L1541.0 2671.0 L1552.4 2669.1 L1560.0 2671.4 L1598.3 2675.3 L1628.9 2666.3 L1640.0 2658.0 L1670.0 2650.0 L1700.0 2655.0 L1730.0 2668.0 L1757.7 2676.5 L1780.0 2670.0 L1850.0 2669.0 L1982.0 2670.0 L1994.0 2670.0"/>
<path stroke="#FF1C17" d="M385.0 2613.0 L397.0 2613.0 L417.3 2636.0 L440.0 2645.0 L480.0 2650.0 L540.0 2648.0 L580.0 2628.0 L600.0 2632.0 L640.0 2650.0 L700.0 2649.7 L731.9 2651.0 L742.1 2648.4 L757.4 2639.5 L771.4 2626.7 L779.1 2620.4 L789.3 2620.4 L799.5 2620.4 L805.9 2606.6 L814.8 2599.5 L821.1 2590.5 L830.9 2584.3 L846.1 2572.7 L856.8 2559.3 L867.5 2541.4 L885.1 2530.1 L900.7 2505.5 L909.6 2501.1 L918.6 2507.8 L929.7 2492.1 L940.9 2485.4 L954.3 2478.8 L967.7 2474.3 L981.1 2481.0 L990.0 2469.8 L1003.4 2478.8 L1014.5 2472.0 L1023.5 2460.9 L1032.4 2463.1 L1041.3 2454.2 L1054.7 2448.6 L1063.6 2469.8 L1072.6 2474.3 L1083.8 2485.4 L1088.2 2501.1 L1101.2 2500.0 L1112.3 2506.7 L1125.7 2515.6 L1136.9 2517.9 L1145.8 2529.0 L1159.2 2540.2 L1172.6 2549.1 L1186.0 2555.8 L1206.1 2566.8 L1219.5 2580.2 L1232.9 2591.3 L1244.0 2586.9 L1259.6 2595.8 L1275.3 2598.0 L1286.4 2609.2 L1295.4 2620.4 L1304.3 2615.9 L1324.4 2619.2 L1335.5 2622.6 L1357.9 2627.0 L1380.2 2629.3 L1402.5 2636.0 L1418.1 2641.6 L1431.5 2638.2 L1460.0 2648.0 L1500.0 2655.0 L1540.0 2660.0 L1560.0 2666.3 L1591.9 2671.4 L1625.0 2662.0 L1649.3 2651.0 L1670.0 2645.0 L1700.3 2643.0 L1720.0 2660.0 L1742.4 2674.6 L1760.0 2672.0 L1800.0 2660.0 L1850.0 2658.0 L1900.0 2662.0 L1960.0 2660.0 L1982.0 2660.0 L1994.0 2660.0"/>
<path stroke="#0046A0" d="M385.0 2562.0 L397.0 2562.0 L410.0 2595.0 L424.0 2616.0 L450.8 2631.6 L470.0 2640.0 L500.0 2646.0 L540.0 2643.0 L580.0 2630.0 L600.0 2632.0 L640.0 2648.0 L700.0 2650.0 L712.8 2651.0 L738.3 2642.0 L757.4 2629.3 L785.4 2606.6 L794.3 2596.8 L803.2 2586.1 L815.7 2572.7 L819.3 2559.3 L832.7 2550.4 L837.1 2532.5 L846.1 2516.4 L857.7 2503.9 L865.7 2478.9 L880.6 2454.2 L896.2 2445.3 L909.6 2427.4 L918.6 2411.8 L929.7 2393.9 L940.9 2389.5 L949.8 2396.2 L956.5 2387.2 L963.2 2391.7 L972.1 2385.0 L981.1 2369.4 L992.2 2373.8 L1005.6 2362.7 L1021.2 2369.4 L1034.6 2372.7 L1045.8 2369.4 L1052.5 2360.4 L1059.2 2385.0 L1074.8 2391.7 L1086.0 2409.6 L1090.0 2410.7 L1103.4 2419.6 L1119.0 2439.7 L1132.4 2450.9 L1139.1 2444.2 L1148.0 2462.1 L1159.2 2473.2 L1170.4 2479.9 L1183.8 2491.1 L1199.4 2502.2 L1212.8 2524.6 L1228.4 2526.8 L1241.8 2538.0 L1246.2 2546.7 L1264.1 2564.6 L1275.3 2580.2 L1286.4 2580.2 L1302.0 2589.1 L1317.7 2591.3 L1333.3 2602.5 L1346.7 2600.3 L1362.3 2611.4 L1380.2 2613.7 L1402.5 2628.2 L1424.8 2636.0 L1438.2 2642.7 L1460.0 2645.0 L1500.0 2650.0 L1540.0 2652.0 L1565.0 2666.0 L1598.3 2670.2 L1630.0 2664.0 L1650.0 2652.0 L1662.0 2647.2 L1680.0 2652.0 L1695.2 2661.2 L1725.0 2668.0 L1757.7 2675.3 L1800.0 2668.0 L1850.0 2662.0 L1900.0 2661.0 L1982.0 2667.0 L1994.0 2667.0"/>
<path stroke="#007A77" d="M386.0 2600.0 L398.0 2600.0 L420.0 2625.0 L440.0 2638.0 L470.0 2648.0 L500.0 2652.0 L520.0 2650.0 L540.0 2648.0 L560.0 2638.0 L575.0 2625.0 L590.0 2624.0 L600.0 2632.0 L612.0 2638.0 L620.0 2630.0 L628.0 2640.0 L650.0 2640.0 L658.0 2632.0 L665.0 2642.0 L690.0 2646.0 L700.0 2647.0 L725.5 2642.0 L744.6 2633.1 L757.4 2621.6 L777.3 2599.5 L787.1 2586.1 L797.9 2572.7 L808.6 2554.8 L817.5 2537.0 L827.3 2514.6 L835.4 2492.3 L842.5 2470.0 L860.5 2443.0 L876.2 2416.2 L882.9 2389.5 L896.2 2358.2 L911.9 2331.4 L927.5 2315.8 L940.9 2282.3 L950.4 2264.8 L954.9 2253.7 L963.8 2262.6 L975.0 2260.4 L992.9 2255.9 L1006.2 2244.7 L1013.0 2222.0 L1015.2 2255.0 L1021.9 2240.3 L1035.3 2251.4 L1046.4 2242.5 L1055.4 2249.2 L1057.0 2264.5 L1070.4 2273.4 L1079.3 2293.5 L1086.0 2310.0 L1098.9 2314.7 L1110.1 2314.7 L1116.8 2334.8 L1127.9 2368.3 L1141.3 2381.7 L1150.3 2381.7 L1157.0 2399.6 L1168.1 2413.0 L1179.3 2413.0 L1190.4 2426.3 L1201.6 2446.4 L1217.2 2464.3 L1228.4 2473.2 L1241.8 2495.5 L1252.9 2502.2 L1264.1 2522.3 L1279.7 2538.0 L1288.7 2555.8 L1299.8 2564.7 L1311.0 2572.0 L1335.5 2575.8 L1357.9 2580.2 L1375.7 2598.0 L1391.3 2611.4 L1407.0 2618.1 L1429.3 2629.3 L1460.0 2633.0 L1500.0 2640.0 L1540.0 2648.0 L1567.7 2661.2 L1604.6 2665.0 L1630.0 2662.0 L1650.0 2652.0 L1672.2 2647.2 L1685.0 2653.6 L1710.0 2660.0 L1741.1 2657.4 L1760.0 2660.0 L1800.0 2668.0 L1850.0 2670.0 L1900.0 2667.0 L1982.0 2667.0 L1994.0 2667.0"/>
<path stroke="#C355A0" d="M386.0 2585.0 L398.0 2585.0 L410.0 2608.0 L421.0 2622.0 L430.0 2626.0 L440.0 2631.0 L452.0 2636.0 L462.0 2638.0 L472.0 2641.0 L482.0 2647.0 L495.0 2649.0 L510.0 2649.0 L525.0 2648.0 L540.0 2647.0 L552.0 2641.0 L562.0 2628.0 L572.0 2617.0 L580.0 2619.0 L590.0 2625.0 L600.0 2631.0 L608.0 2635.0 L620.0 2635.0 L628.0 2632.0 L637.0 2637.0 L646.0 2634.0 L655.0 2638.0 L665.0 2644.0 L675.0 2647.0 L690.0 2644.0 L700.0 2640.0 L712.8 2644.6 L731.9 2637.0 L751.0 2622.9 L763.9 2605.7 L772.9 2590.5 L785.4 2572.7 L797.9 2550.4 L807.7 2523.6 L818.4 2496.8 L826.4 2470.0 L838.2 2438.6 L849.4 2405.0 L858.3 2371.6 L871.7 2338.1 L882.9 2304.6 L896.2 2282.3 L909.6 2260.0 L912.5 2251.4 L923.7 2238.0 L928.1 2213.5 L939.3 2195.6 L948.2 2182.2 L952.7 2173.3 L959.4 2177.8 L968.3 2166.6 L977.2 2166.6 L981.7 2151.0 L983.9 2142.0 L992.9 2146.5 L997.3 2162.1 L1006.2 2139.8 L1017.4 2137.6 L1019.5 2151.0 L1024.1 2135.4 L1033.0 2148.8 L1046.4 2142.0 L1055.4 2153.2 L1057.6 2171.1 L1064.3 2162.1 L1073.2 2180.0 L1079.9 2197.9 L1084.4 2220.2 L1093.3 2217.9 L1100.0 2238.0 L1103.4 2256.7 L1114.5 2270.1 L1125.7 2290.2 L1134.6 2303.6 L1145.8 2319.2 L1157.0 2330.4 L1165.9 2350.4 L1174.8 2363.8 L1190.4 2375.0 L1201.6 2395.1 L1212.8 2417.4 L1226.2 2439.7 L1237.3 2453.1 L1250.7 2471.0 L1264.1 2479.9 L1273.0 2500.0 L1282.0 2491.1 L1286.4 2511.2 L1302.0 2529.0 L1308.8 2546.7 L1324.4 2555.6 L1340.0 2564.6 L1357.9 2584.6 L1380.2 2591.3 L1402.5 2598.0 L1420.4 2607.0 L1438.2 2613.7 L1460.0 2618.0 L1490.0 2624.0 L1520.0 2632.0 L1550.0 2645.0 L1567.7 2660.0 L1598.3 2665.0 L1631.4 2662.5 L1640.0 2645.0 L1646.7 2629.3 L1660.0 2630.0 L1680.0 2640.0 L1700.3 2658.7 L1725.8 2671.4 L1760.0 2668.0 L1800.0 2663.0 L1900.0 2663.0 L1982.0 2663.0 L1994.0 2663.0"/>
<path stroke="#7E7E20" d="M387.5 2581.0 L399.5 2581.0 L408.4 2604.6 L417.3 2622.6 L428.5 2626.7 L439.6 2639.2 L450.8 2648.7 L462.0 2645.7 L473.1 2651.7 L484.3 2653.0 L495.4 2650.7 L506.6 2649.0 L517.8 2646.9 L528.9 2647.6 L540.1 2651.5 L551.2 2642.2 L562.4 2636.0 L573.6 2629.0 L584.7 2624.6 L595.9 2628.3 L607.0 2639.6 L618.2 2649.3 L629.4 2654.0 L640.5 2648.3 L651.7 2648.2 L662.9 2651.8 L674.0 2653.3 L685.2 2644.7 L696.3 2643.6 L700.0 2635.7 L706.4 2643.3 L725.5 2634.4 L742.1 2621.6 L754.1 2603.9 L763.9 2590.5 L776.4 2572.7 L788.9 2550.4 L799.6 2523.6 L810.4 2496.8 L818.4 2470.0 L824.8 2460.9 L836.0 2416.2 L851.6 2349.3 L865.0 2293.5 L872.3 2280.0 L883.5 2238.0 L894.6 2220.2 L901.3 2186.7 L908.0 2153.2 L917.0 2130.9 L921.4 2122.0 L928.1 2117.5 L939.3 2115.3 L950.4 2113.0 L957.1 2090.7 L966.1 2075.1 L972.8 2055.0 L979.5 2046.1 L981.7 2034.9 L990.6 2037.1 L997.3 2048.3 L1004.0 2043.8 L1006.2 2059.5 L1015.2 2050.5 L1021.9 2072.9 L1028.6 2059.5 L1037.5 2055.0 L1039.5 2081.8 L1046.4 2068.4 L1057.6 2072.9 L1064.3 2090.7 L1073.2 2108.6 L1084.4 2124.2 L1088.8 2137.6 L1100.0 2159.9 L1111.2 2182.2 L1120.1 2206.8 L1126.8 2197.9 L1131.2 2217.9 L1140.2 2226.9 L1149.1 2242.5 L1152.5 2254.5 L1159.2 2276.8 L1170.4 2290.2 L1183.8 2317.0 L1194.9 2339.3 L1203.8 2368.3 L1215.0 2379.5 L1223.9 2406.2 L1237.3 2417.4 L1250.7 2435.3 L1264.1 2457.6 L1279.7 2473.2 L1293.1 2493.3 L1304.3 2511.2 L1317.7 2522.3 L1335.5 2531.2 L1348.9 2546.9 L1371.2 2558.0 L1384.6 2573.7 L1402.5 2586.0 L1420.4 2594.5 L1438.2 2607.0 L1460.0 2612.0 L1490.0 2618.0 L1520.0 2624.0 L1550.0 2638.0 L1567.7 2654.8 L1608.5 2662.5 L1631.4 2640.8 L1655.7 2629.3 L1680.0 2633.0 L1700.3 2642.1 L1720.0 2648.0 L1745.0 2658.7 L1760.0 2662.0 L1800.0 2662.0 L1850.0 2663.0 L1900.0 2662.0 L1940.0 2661.0 L1982.0 2663.0 L1994.0 2663.0"/>
<path stroke="#0E2658" d="M387.5 2578.7 L399.5 2578.7 L408.4 2606.9 L417.3 2621.8 L428.5 2627.8 L439.6 2639.6 L450.8 2646.7 L462.0 2646.7 L473.1 2648.9 L484.3 2651.6 L495.4 2647.7 L506.6 2649.2 L517.8 2649.6 L528.9 2651.2 L540.1 2647.0 L551.2 2640.9 L562.4 2636.6 L573.6 2626.6 L584.7 2621.4 L595.9 2627.3 L607.0 2640.3 L618.2 2650.3 L629.4 2651.9 L640.5 2649.4 L651.7 2644.3 L662.9 2651.9 L674.0 2648.7 L685.2 2646.5 L696.3 2642.6 L700.0 2635.4 L706.4 2625.5 L734.5 2607.5 L742.5 2599.5 L752.5 2586.1 L761.5 2572.7 L770.0 2559.0 L780.0 2541.0 L790.0 2525.0 L798.8 2510.2 L805.9 2492.3 L812.1 2470.0 L820.4 2438.6 L831.5 2405.0 L844.9 2349.3 L855.0 2304.6 L863.4 2280.0 L872.3 2242.5 L883.5 2197.9 L894.6 2153.2 L896.9 2130.9 L905.8 2108.6 L917.0 2075.1 L923.7 2052.8 L934.8 2037.1 L938.2 2019.3 L939.5 2008.0 L943.8 2019.3 L954.9 2008.1 L966.0 1988.0 L968.9 1977.3 L975.3 1967.1 L981.6 1949.3 L989.3 1962.0 L998.2 1968.4 L1005.9 1972.2 L1012.2 1965.9 L1019.9 1967.1 L1026.3 1965.9 L1033.9 1974.8 L1040.3 1983.7 L1045.4 1992.7 L1053.1 1986.3 L1060.7 1995.2 L1064.3 2014.8 L1073.2 2030.4 L1084.4 2034.9 L1091.1 2034.9 L1095.5 2052.8 L1102.2 2075.1 L1108.9 2097.4 L1117.9 2108.6 L1126.8 2142.0 L1137.9 2164.4 L1146.9 2197.9 L1158.0 2224.6 L1169.2 2242.5 L1175.0 2252.0 L1186.0 2288.0 L1197.1 2285.7 L1208.3 2323.7 L1217.2 2352.7 L1230.6 2370.5 L1239.6 2395.1 L1255.2 2415.2 L1266.3 2444.2 L1275.3 2457.6 L1286.4 2473.2 L1302.0 2491.1 L1313.2 2500.0 L1331.1 2515.6 L1353.4 2540.2 L1369.0 2549.0 L1380.2 2558.0 L1402.5 2571.4 L1424.8 2582.0 L1438.2 2598.0 L1458.0 2606.0 L1480.0 2612.0 L1516.0 2618.0 L1541.0 2628.0 L1560.0 2652.0 L1575.0 2656.0 L1591.9 2660.0 L1623.8 2660.0 L1645.0 2640.0 L1658.0 2630.0 L1669.7 2626.0 L1687.6 2633.2 L1705.0 2648.0 L1730.0 2660.0 L1760.0 2666.0 L1778.0 2657.0 L1800.0 2662.0 L1850.0 2664.0 L1900.0 2665.0 L1982.0 2665.0 L1994.0 2665.0"/>
<path stroke="#8C1019" d="M387.5 2578.0 L399.5 2578.0 L408.4 2604.8 L417.3 2618.2 L428.5 2627.1 L439.6 2636.0 L450.8 2645.0 L462.0 2646.1 L473.1 2648.3 L484.3 2651.7 L495.4 2648.3 L506.6 2649.5 L517.8 2647.2 L528.9 2647.2 L540.1 2647.2 L551.2 2641.7 L562.4 2632.7 L573.6 2624.9 L584.7 2620.4 L595.9 2627.1 L607.0 2638.3 L618.2 2647.2 L629.4 2650.6 L640.5 2648.3 L651.7 2645.0 L662.9 2648.3 L674.0 2649.5 L685.2 2645.0 L696.3 2639.4 L700.0 2635.7 L719.1 2629.3 L734.4 2616.5 L737.1 2607.5 L745.2 2599.5 L755.0 2586.1 L763.9 2572.7 L772.0 2559.3 L779.1 2541.4 L785.4 2523.6 L792.5 2505.7 L797.9 2487.9 L801.4 2470.0 L811.4 2438.6 L817.0 2402.9 L827.0 2393.9 L838.2 2349.3 L847.1 2304.6 L854.5 2264.8 L865.6 2215.7 L874.5 2164.4 L883.5 2119.7 L892.4 2075.1 L899.1 2059.5 L905.8 2037.1 L912.5 2021.5 L919.2 1997.0 L926.8 1974.8 L930.6 1962.0 L938.3 1951.8 L944.6 1936.5 L952.3 1920.0 L958.7 1905.9 L961.2 1905.0 L968.5 1895.0 L976.5 1908.5 L983.0 1890.0 L990.6 1873.0 L1000.8 1894.4 L1005.9 1886.8 L1017.3 1895.7 L1025.0 1900.8 L1031.4 1899.5 L1037.8 1905.9 L1040.3 1893.2 L1048.0 1907.2 L1055.6 1913.6 L1058.2 1941.6 L1065.8 1944.2 L1069.6 1958.2 L1077.3 1960.8 L1081.1 1981.2 L1086.6 2001.4 L1095.5 2012.6 L1106.7 2041.6 L1115.6 2075.1 L1126.8 2084.0 L1137.9 2099.6 L1144.6 2130.9 L1155.8 2144.3 L1160.3 2175.5 L1173.7 2202.3 L1180.4 2226.9 L1189.3 2242.5 L1196.0 2264.8 L1201.6 2267.9 L1215.0 2294.6 L1228.4 2323.7 L1237.3 2350.4 L1244.0 2377.2 L1255.2 2379.5 L1261.9 2401.8 L1273.0 2424.1 L1282.0 2442.0 L1295.4 2459.8 L1306.5 2479.9 L1317.7 2491.1 L1331.1 2506.7 L1346.7 2520.1 L1362.3 2533.5 L1380.2 2544.6 L1398.0 2555.8 L1409.2 2560.3 L1418.1 2573.7 L1429.3 2589.3 L1439.6 2594.4 L1458.7 2605.9 L1477.8 2615.5 L1497.0 2625.0 L1516.1 2632.7 L1527.6 2627.0 L1541.0 2634.6 L1548.6 2644.2 L1560.0 2647.2 L1566.4 2643.4 L1575.3 2647.2 L1580.4 2645.9 L1585.5 2649.7 L1590.6 2642.1 L1599.5 2651.0 L1618.7 2651.0 L1639.1 2643.4 L1649.3 2638.3 L1662.0 2639.5 L1669.7 2634.4 L1681.2 2637.0 L1693.9 2645.9 L1713.1 2653.6 L1725.8 2661.2 L1741.1 2667.6 L1751.3 2666.3 L1760.0 2668.9 L1776.1 2668.4 L1795.2 2666.5 L1814.4 2672.3 L1843.1 2666.5 L1862.2 2672.3 L1881.3 2674.2 L1900.5 2672.3 L1919.6 2673.2 L1938.7 2674.2 L1961.7 2670.4 L1982.0 2672.3 L1994.0 2672.3"/>
</g>
<g fill="#000">
<rect x="364" y="241.0" width="24" height="11"/>
<rect x="364" y="547.0" width="24" height="11"/>
<rect x="364" y="853.3" width="24" height="11"/>
<rect x="364" y="1161.5" width="24" height="11"/>
<rect x="374" y="89.0" width="14" height="11"/>
<rect x="374" y="394.0" width="14" height="11"/>
<rect x="374" y="700.2" width="14" height="11"/>
<rect x="374" y="1007.4" width="14" height="11"/>
<rect x="415.8" y="1221" width="11" height="12.0"/>
<rect x="557.5" y="1221" width="11" height="24.5"/>
<rect x="699.2" y="1221" width="11" height="12.0"/>
<rect x="841.0" y="1221" width="11" height="24.5"/>
<rect x="982.8" y="1221" width="11" height="12.0"/>
<rect x="1124.5" y="1221" width="11" height="24.5"/>
<rect x="1266.2" y="1221" width="11" height="12.0"/>
<rect x="1408.0" y="1221" width="11" height="24.5"/>
<rect x="1549.8" y="1221" width="11" height="12.0"/>
<rect x="1691.5" y="1221" width="11" height="24.5"/>
<rect x="1833.2" y="1221" width="11" height="12.0"/>
<rect x="1975.0" y="1221" width="11" height="24.5"/>
<rect x="365.4" y="1764.0" width="26" height="11"/>
<rect x="365.4" y="2074.0" width="26" height="11"/>
<rect x="365.4" y="2384.3" width="26" height="11"/>
<rect x="365.4" y="2695.1" width="26" height="11"/>
<rect x="378" y="1608.0" width="13.5" height="11"/>
<rect x="378" y="1918.5" width="13.5" height="11"/>
<rect x="378" y="2228.5" width="13.5" height="11"/>
<rect x="378" y="2539.0" width="13.5" height="11"/>
<rect x="417.8" y="2765" width="11" height="13.5"/>
<rect x="559.5" y="2765" width="11" height="24.5"/>
<rect x="701.2" y="2765" width="11" height="13.5"/>
<rect x="842.9" y="2765" width="11" height="24.5"/>
<rect x="984.6" y="2765" width="11" height="13.5"/>
<rect x="1126.3" y="2765" width="11" height="24.5"/>
<rect x="1268.0" y="2765" width="11" height="13.5"/>
<rect x="1409.7" y="2765" width="11" height="24.5"/>
<rect x="1551.4" y="2765" width="11" height="13.5"/>
<rect x="1693.1" y="2765" width="11" height="24.5"/>
<rect x="1834.8" y="2765" width="11" height="13.5"/>
<rect x="1976.5" y="2765" width="11" height="24.5"/>
<rect x="1306" y="235" width="11" height="642.7"/>
<polygon points="1284,236 1343,236 1313.6,126.8"/>
<rect x="1334.8" y="1812" width="10.7" height="611.7"/>
<polygon points="1312.5,1812.6 1370,1812.6 1342.4,1704"/>
</g>
<rect x="1372" y="150.7" width="210" height="12" fill="#0E2658"/>
<rect x="1372" y="264.5" width="210" height="12" fill="#7E7E20"/>
<rect x="1372" y="378.4" width="210" height="12" fill="#C355A0"/>
<rect x="1372" y="492.2" width="210" height="12" fill="#007A77"/>
<rect x="1372" y="606.0" width="210" height="12" fill="#0046A0"/>
<rect x="1372" y="719.8" width="210" height="12" fill="#FF1C17"/>
<rect x="1372" y="833.7" width="210" height="12" fill="#000000"/>
<rect x="1391" y="1661.5" width="201" height="11.5" fill="#8C1019"/>
<rect x="1391" y="1776.1" width="201" height="11.5" fill="#0E2658"/>
<rect x="1391" y="1890.8" width="201" height="11.5" fill="#7E7E20"/>
<rect x="1391" y="2005.3" width="201" height="11.5" fill="#C355A0"/>
<rect x="1391" y="2119.9" width="201" height="11.5" fill="#007A77"/>
<rect x="1391" y="2234.6" width="201" height="11.5" fill="#0046A0"/>
<rect x="1391" y="2349.1" width="201" height="11.5" fill="#FF1C17"/>
<rect x="1391" y="2463.8" width="201" height="11.5" fill="#000000"/>
<g font-family="'Liberation Sans', Arial, sans-serif" font-weight="bold" fill="#000">
<g transform="translate(30.82 126.80) scale(1.0190 1)"><text font-size="114.00">(a)</text></g>
<g transform="translate(611.09 243.00) scale(0.9402 1)"><text font-size="104.00">UV</text></g>
<g transform="translate(167.49 265.70) scale(0.9478 1)"><text font-size="102.41" letter-spacing="-6.144">4500</text></g>
<g transform="translate(168.63 573.90) scale(0.9422 1)"><text font-size="102.41" letter-spacing="-6.144">3000</text></g>
<g transform="translate(168.78 879.60) scale(0.9415 1)"><text font-size="102.41" letter-spacing="-6.144">1500</text><rect x="3.07" y="-11.88" width="20.64" height="12.90" fill="#fff"/><rect x="37.74" y="-11.88" width="16.23" height="12.90" fill="#fff"/></g>
<g transform="translate(228.93 1186.90) scale(0.9403 1)"><text font-size="102.97">0</text></g>
<g transform="translate(474.64 1380.20) scale(0.9398 1)"><text font-size="102.41" letter-spacing="-6.144">350</text></g>
<g transform="translate(757.39 1380.20) scale(0.9525 1)"><text font-size="102.41" letter-spacing="-6.144">400</text></g>
<g transform="translate(1040.49 1380.20) scale(0.9525 1)"><text font-size="102.41" letter-spacing="-6.144">450</text></g>
<g transform="translate(1325.03 1380.20) scale(0.9477 1)"><text font-size="102.41" letter-spacing="-6.144">500</text></g>
<g transform="translate(1607.72 1380.20) scale(0.9503 1)"><text font-size="102.41" letter-spacing="-6.144">550</text></g>
<g transform="translate(1890.95 1380.20) scale(0.9533 1)"><text font-size="102.41" letter-spacing="-6.144">600</text></g>
<g transform="translate(846.63 1494.00) scale(0.9770 1)"><text font-size="101.00">Wavelength (nm)</text></g>
<text transform="translate(121.40 923.77) rotate(-90) scale(0.9567 1)" font-size="101.00">Intensity (a.u.)</text>
<g transform="translate(1642.61 167.80) scale(0.9623 1)"><text font-size="101.00">30 min</text></g>
<g transform="translate(1641.62 285.90) scale(0.9654 1)"><text font-size="101.00">25 min</text></g>
<g transform="translate(1641.62 403.50) scale(0.9654 1)"><text font-size="101.00">20 min</text></g>
<g transform="translate(1642.83 520.20) scale(0.9616 1)"><text font-size="101.00">15 min</text><rect x="3.03" y="-11.72" width="20.35" height="12.73" fill="#fff"/><rect x="37.22" y="-11.72" width="17.83" height="12.73" fill="#fff"/></g>
<g transform="translate(1642.83 637.30) scale(0.9616 1)"><text font-size="101.00">10 min</text><rect x="3.03" y="-11.72" width="20.35" height="12.73" fill="#fff"/><rect x="37.22" y="-11.72" width="17.83" height="12.73" fill="#fff"/></g>
<g transform="translate(1692.67 756.20) scale(0.9778 1)"><text font-size="101.00">5 min</text></g>
<g transform="translate(1692.05 872.40) scale(0.9802 1)"><text font-size="101.00">0 min</text></g>
<g transform="translate(30.29 1614.00) scale(1.0146 1)"><text font-size="115.00">(b)</text></g>
<g transform="translate(608.90 1810.80) scale(0.9760 1)"><text font-size="101.00">Vis</text></g>
<g transform="translate(180.55 1773.60) scale(0.9224 1)"><text font-size="103.68" letter-spacing="-6.221">300</text></g>
<g transform="translate(179.56 2082.80) scale(0.9313 1)"><text font-size="103.40" letter-spacing="-6.204">200</text></g>
<g transform="translate(180.29 2393.60) scale(0.9229 1)"><text font-size="104.25" letter-spacing="-6.255">100</text><rect x="3.13" y="-12.09" width="21.01" height="13.14" fill="#fff"/><rect x="38.42" y="-12.09" width="16.52" height="13.14" fill="#fff"/></g>
<g transform="translate(228.90 2703.90) scale(0.9369 1)"><text font-size="104.25">0</text></g>
<g transform="translate(476.93 2929.50) scale(0.9411 1)"><text font-size="102.41" letter-spacing="-6.144">350</text></g>
<g transform="translate(758.39 2929.50) scale(0.9525 1)"><text font-size="102.41" letter-spacing="-6.144">400</text></g>
<g transform="translate(1042.09 2929.50) scale(0.9492 1)"><text font-size="102.41" letter-spacing="-6.144">450</text></g>
<g transform="translate(1325.03 2929.50) scale(0.9477 1)"><text font-size="102.41" letter-spacing="-6.144">500</text></g>
<g transform="translate(1607.72 2929.50) scale(0.9503 1)"><text font-size="102.41" letter-spacing="-6.144">550</text></g>
<g transform="translate(1890.95 2929.50) scale(0.9533 1)"><text font-size="102.41" letter-spacing="-6.144">600</text></g>
<g transform="translate(846.43 3044.00) scale(0.9773 1)"><text font-size="101.00">Wavelength (nm)</text></g>
<text transform="translate(138.40 2473.76) rotate(-90) scale(0.9554 1)" font-size="101.00">Intensity (a.u.)</text>
<g transform="translate(1629.77 1712.20) scale(0.9739 1)"><text font-size="101.00">70 min</text></g>
<g transform="translate(1630.23 1824.20) scale(0.9724 1)"><text font-size="101.00">60 min</text></g>
<g transform="translate(1630.69 1937.20) scale(0.9709 1)"><text font-size="101.00">50 min</text></g>
<g transform="translate(1632.49 2048.80) scale(0.9652 1)"><text font-size="101.00">40 min</text></g>
<g transform="translate(1631.60 2161.80) scale(0.9680 1)"><text font-size="101.00">30 min</text></g>
<g transform="translate(1632.31 2272.40) scale(0.9658 1)"><text font-size="101.00">20 min</text></g>
<g transform="translate(1633.12 2385.40) scale(0.9632 1)"><text font-size="101.00">10 min</text><rect x="3.03" y="-11.72" width="20.35" height="12.73" fill="#fff"/><rect x="37.22" y="-11.72" width="17.83" height="12.73" fill="#fff"/></g>
<g transform="translate(1682.68 2485.80) scale(0.9719 1)"><text font-size="101.00">0 min</text></g>
</g>
</svg></body></html>
